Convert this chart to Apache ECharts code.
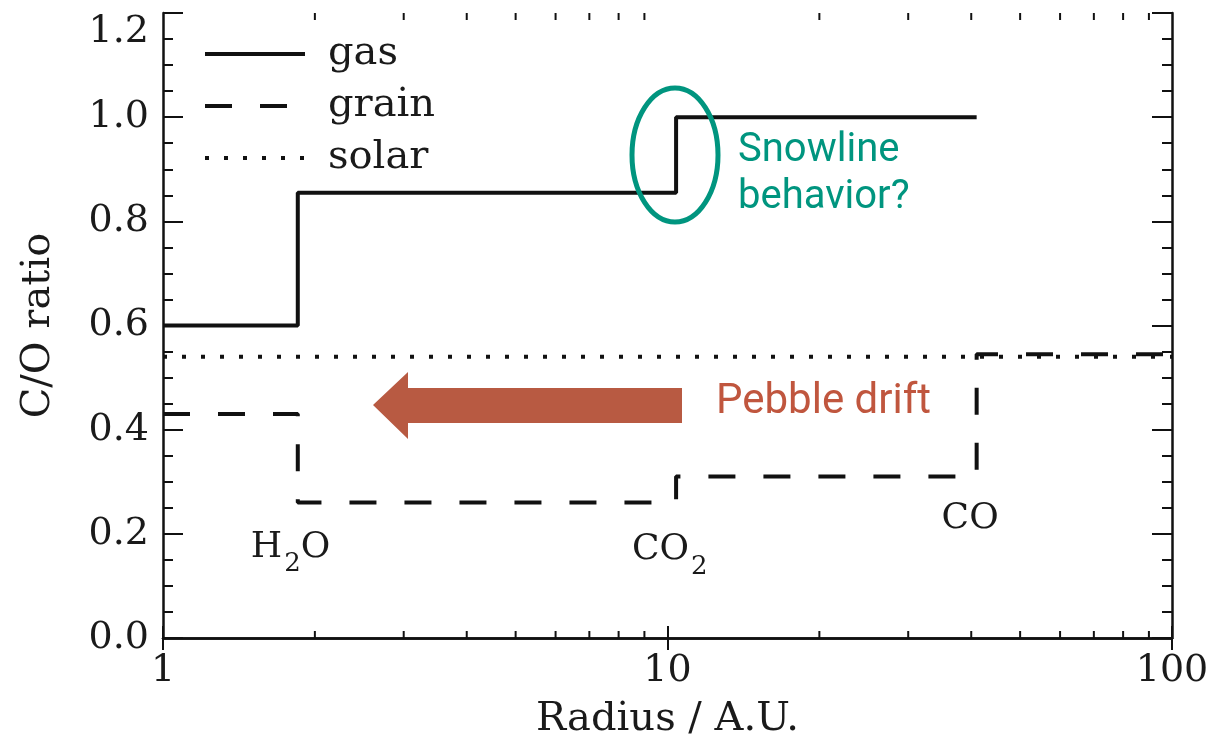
<!DOCTYPE html>
<html>
<head>
<meta charset="utf-8">
<script src="https://cdn.jsdelivr.net/npm/echarts@6/dist/echarts.min.js"></script>
<style>
html,body{margin:0;padding:0;background:#fff;}
#main{width:1211px;height:742px;}
</style>
</head>
<body>
<div id="main"></div>
<script>
// ---- data ----
const gasX = [1, 1.85, 10.4, 41];
const gasY = [0.6, 0.855, 1.0, 1.0];
const grainX = [1, 1.85, 10.4, 41, 100];
const grainY = [0.43, 0.26, 0.31, 0.545, 0.545];
const solarX = [1, 100];
const solarY = [0.54, 0.54];
const seriesNames = ['gas', 'grain', 'solar'];
const snowNames = ['H2O', 'CO2', 'CO'];
const snowX = [1.79, 10.1, 39.8];
const snowY = [0.17, 0.165, 0.225];
const xMinorTicks = [2, 3, 4, 5, 6, 7, 8, 9, 20, 30, 40, 50, 60, 70, 80, 90];
const xTickValues = [1, 10, 100];
const yMin = 0, yMax = 1.2, yStep = 0.2;
const xLabel = 'Radius / A.U.';
const yLabel = 'C/O ratio';

const zip = (xs, ys) => xs.map((x, i) => [x, ys[i]]);
const serif = 'DejaVu Serif';
const ink = '#111';
const txt = '#1a1a1a';

const chart = echarts.init(document.getElementById('main'), null, {renderer: 'canvas'});

const axisLineStyle = {color: ink, width: 2.5};
const grainDash = [27, 28];
const solarDash = [4, 15];

const option = {
  animation: false,
  backgroundColor: '#fff',
  grid: {left: 163, right: 39, top: 13, bottom: 104, containLabel: false, outerBoundsMode: 'none'},
  legend: {
    data: [
      {name: 'gas', itemStyle: {opacity: 0}, lineStyle: {width: 4, type: 'solid', color: ink}},
      {name: 'grain', itemStyle: {opacity: 0}, lineStyle: {width: 4, type: grainDash, color: ink, cap: 'butt'}},
      {name: 'solar', itemStyle: {opacity: 0}, lineStyle: {width: 4, type: solarDash, color: ink, cap: 'butt'}}
    ],
    orient: 'vertical',
    left: 198,
    top: 27,
    itemWidth: 100,
    itemHeight: 14,
    itemGap: 8,
    itemStyle: {opacity: 0},
    lineStyle: {width: 4},
    textStyle: {fontFamily: serif, fontSize: 40, color: txt, lineHeight: 44, padding: [0, 0, 0, 18]}
  },
  xAxis: [
    {
      type: 'log', logBase: 10, min: 1, max: 100,
      name: xLabel, nameLocation: 'middle', nameGap: 62,
      nameTextStyle: {fontFamily: serif, fontSize: 40, color: txt},
      axisLine: {show: true, lineStyle: axisLineStyle},
      axisTick: {show: true, inside: true, length: 12, lineStyle: {color: ink, width: 2}},
      axisLabel: {fontFamily: serif, fontSize: 38, color: txt, margin: 14,
        formatter: v => xTickValues.includes(Math.round(v)) ? String(Math.round(v)) : ''},
      splitLine: {show: false},
      minorTick: {show: false}
    },
    {
      type: 'log', logBase: 10, min: 1, max: 100, position: 'top',
      axisLine: {show: true, lineStyle: axisLineStyle},
      axisTick: {show: true, inside: true, length: 12, lineStyle: {color: ink, width: 2}},
      axisLabel: {show: false},
      splitLine: {show: false}
    }
  ],
  yAxis: [
    {
      type: 'value', min: yMin, max: yMax, interval: yStep,
      name: yLabel, nameLocation: 'middle', nameGap: 104, nameRotate: 90,
      nameTextStyle: {fontFamily: serif, fontSize: 40, color: txt},
      axisLine: {show: true, lineStyle: axisLineStyle},
      axisTick: {show: true, inside: true, length: 20, lineStyle: {color: ink, width: 2}},
      minorTick: {show: true, splitNumber: 4, length: 10, lineStyle: {color: ink, width: 2}},
      axisLabel: {fontFamily: serif, fontSize: 38, color: txt, margin: 14,
        verticalAlignMaxLabel: 'top',
        formatter: v => v.toFixed(1)},
      splitLine: {show: false}
    },
    {
      type: 'value', min: yMin, max: yMax, interval: yStep, position: 'right',
      axisLine: {show: true, lineStyle: axisLineStyle},
      axisTick: {show: true, inside: true, length: 20, lineStyle: {color: ink, width: 2}},
      minorTick: {show: true, splitNumber: 4, length: 10, lineStyle: {color: ink, width: 2}},
      axisLabel: {show: false},
      splitLine: {show: false}
    }
  ],
  series: [
    {
      name: 'gas', type: 'line', step: 'end', symbol: 'none',
      data: zip(gasX, gasY),
      lineStyle: {color: ink, width: 4, type: 'solid'},
      itemStyle: {color: ink}, z: 3
    },
    {
      name: 'grain', type: 'line', step: 'end', symbol: 'none',
      data: zip(grainX, grainY),
      lineStyle: {color: ink, width: 4, type: grainDash, cap: 'butt'},
      itemStyle: {color: ink}, z: 3
    },
    {
      name: 'solar', type: 'line', symbol: 'none',
      data: zip(solarX, solarY),
      lineStyle: {color: ink, width: 4, type: solarDash, cap: 'butt'},
      itemStyle: {color: ink}, z: 2
    },
    {
      name: 'snowlines', type: 'scatter', symbolSize: 0, silent: true,
      itemStyle: {opacity: 1},
      data: snowNames.map((n, i) => ({name: n, value: [snowX[i], snowY[i]]})),
      label: {
        show: true, position: 'inside', opacity: 1,
        formatter: p => {
          if (p.name === 'H2O') return '{n|H}{s|2}{n|O}';
          if (p.name === 'CO2') return '{n|CO}{s|2}';
          return '{n|' + p.name + '}';
        },
        rich: {
          n: {fontFamily: serif, fontSize: 36, color: txt, lineHeight: 40, verticalAlign: 'top'},
          s: {fontFamily: serif, fontSize: 26, color: txt, lineHeight: 26, verticalAlign: 'top', padding: [22, 0, 0, 2]}
        }
      }
    },
    {
      name: 'xminor', type: 'custom', silent: true,
      data: xMinorTicks.map(v => [v]),
      encode: {x: 0},
      renderItem: (params, api) => {
        const x = api.value(0);
        const pb = api.coord([x, yMin]);
        const pt = api.coord([x, yMax]);
        const st = {stroke: ink, lineWidth: 2};
        return {type: 'group', children: [
          {type: 'line', shape: {x1: pb[0], y1: pb[1], x2: pb[0], y2: pb[1] - 7}, style: st},
          {type: 'line', shape: {x1: pt[0], y1: pt[1], x2: pt[0], y2: pt[1] + 7}, style: st}
        ]};
      }
    }
  ],
  graphic: [
    {
      type: 'ellipse', shape: {cx: 675, cy: 155, rx: 43, ry: 67},
      style: {fill: 'none', stroke: '#00957f', lineWidth: 5}, z: 10
    },
    {
      type: 'text', left: 738, top: 127,
      style: {text: 'Snowline\nbehavior?', font: '40px Roboto', fill: '#00957f', lineHeight: 47}, z: 10
    },
    {
      type: 'polygon',
      shape: {points: [[373, 405], [408, 372], [408, 388], [682, 388], [682, 423], [408, 423], [408, 439]]},
      style: {fill: '#b85a42'}, z: 10
    },
    {
      type: 'text', left: 716, top: 381,
      style: {text: 'Pebble drift', font: '42px Roboto', fill: '#c0563e'}, z: 10
    }
  ]
};
chart.setOption(option);
</script>
</body>
</html>
